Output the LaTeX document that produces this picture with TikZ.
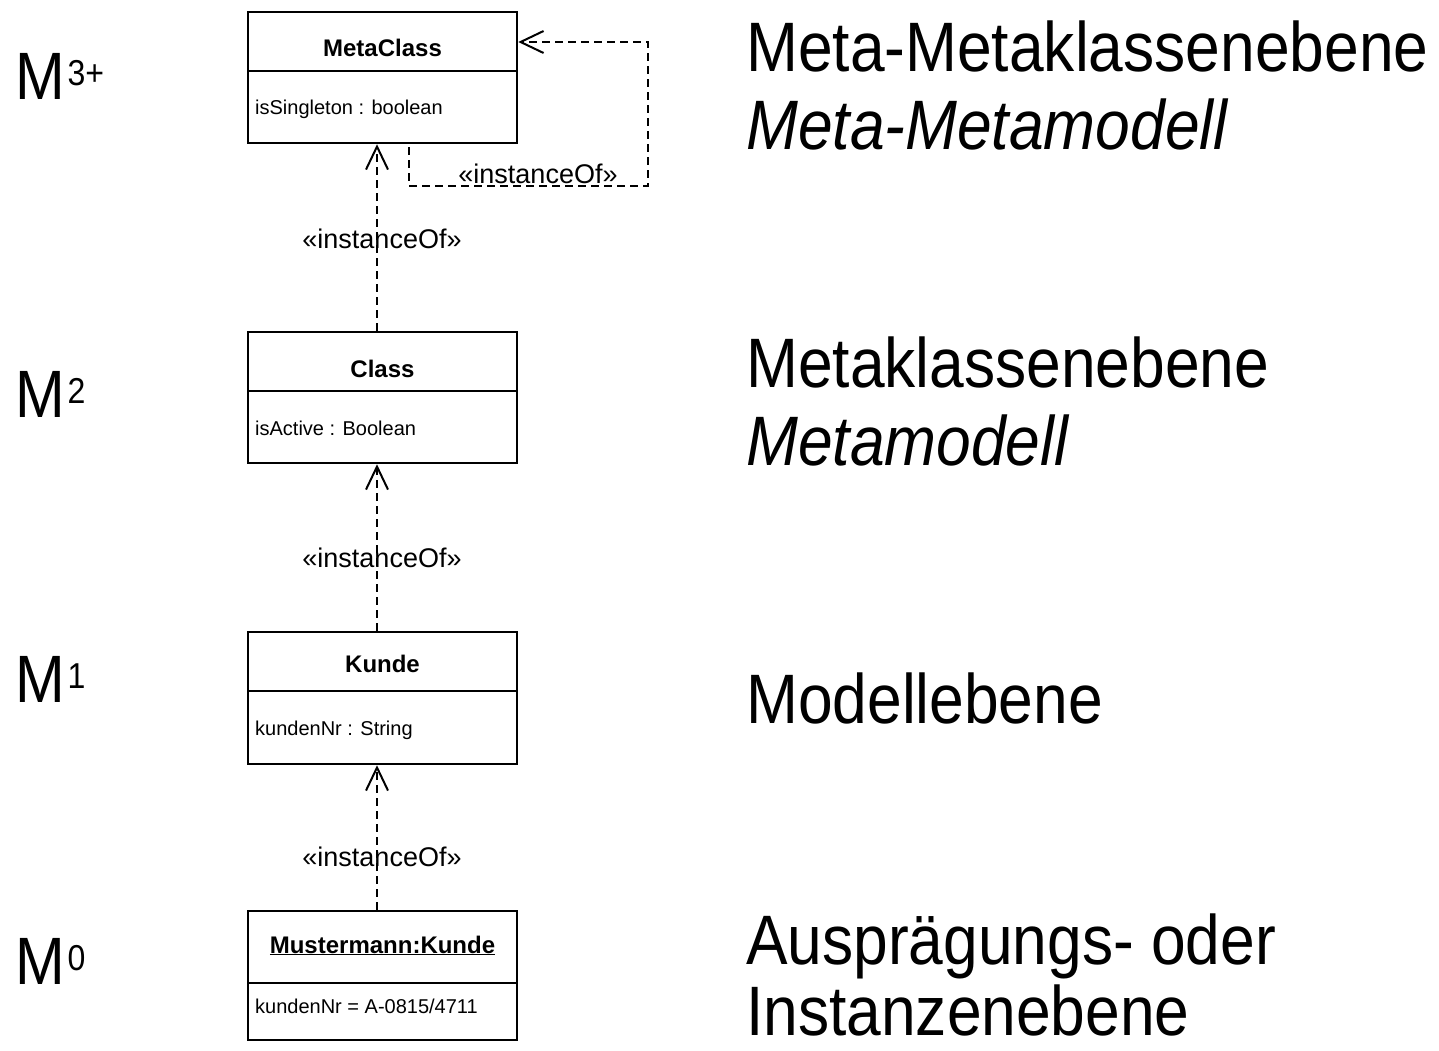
\documentclass[tikz,border=0pt]{standalone}
\usepackage{fontspec}
\setmainfont{Liberation Sans}
\usetikzlibrary{arrows.meta}
\newcommand{\cond}[1]{\scalebox{0.89}[1]{#1}}
\newcommand{\supr}[1]{\hspace{3pt}\raisebox{14pt}{\fontsize{36}{36}\selectfont #1}}
\begin{document}
\begin{tikzpicture}[x=1pt,y=-1pt,
  umlbox/.style={draw, line width=2.5pt, minimum width=269pt, inner sep=0pt},
  divider/.style={line width=2.5pt},
  inst/.style={line width=2pt, dash pattern=on 8pt off 5pt,
    -{Straight Barb[length=23pt,width=22pt,line width=2pt]}},
  ttl/.style={font=\fontsize{24}{28}\selectfont\bfseries, anchor=base, inner sep=0pt},
  attr/.style={font=\fontsize{20}{24}\selectfont, anchor=base west, inner sep=0pt},
  stereo/.style={font=\fontsize{27}{30}\selectfont, anchor=base, inner sep=0pt},
  big/.style={font=\fontsize{70}{78}\selectfont, anchor=base west, inner sep=0pt},
  lvl/.style={font=\fontsize{67}{70}\selectfont, anchor=base west, inner sep=0pt}]
\useasboundingbox (0,0) rectangle (1439,1051);

% boxes
\node[umlbox, minimum height=131pt] (mc) at (382.5,77.5) {};
\draw[divider] (248,71) -- (517,71);
\node[ttl] (mct) at (382.5,57) {MetaClass};
\node[attr] (mca) at (255,115) {isSingleton : boolean};

\node[umlbox, minimum height=131pt] (cls) at (382.5,397.5) {};
\draw[divider] (248,391) -- (517,391);
\node[ttl] (clst) at (382.5,377) {Class};
\node[attr] (clsa) at (255,435) {isActive : Boolean};

\node[umlbox, minimum height=132pt] (ku) at (382.5,698) {};
\draw[divider] (248,691) -- (517,691);
\node[ttl] (kut) at (382.5,672) {Kunde};
\node[attr] (kua) at (255,735) {kundenNr : String};

\node[umlbox, minimum height=129pt] (mu) at (382.5,975.5) {};
\draw[divider] (248,983) -- (517,983);
\node[ttl] (mut) at (382.5,953) {\underline{Mustermann:Kunde}};
\node[attr] (mua) at (255,1013) {kundenNr = A-0815/4711};

% connectors
\draw[inst] ([xshift=-5.5pt]cls.north) -- ([xshift=-5.5pt]mc.south);
\draw[inst] ([xshift=-5.5pt]ku.north) -- ([xshift=-5.5pt]cls.south);
\draw[inst] ([xshift=-5.5pt]mu.north) -- ([xshift=-5.5pt]ku.south);
\coordinate (lp) at (648,186);
\draw[inst] ([xshift=26.5pt,yshift=-3pt]mc.south) |- (lp) |- ([yshift=35.5pt]mc.east);

% stereotypes
\node[stereo] (s1) at (382,248) {«instanceOf»};
\node[stereo] (s2) at (382,567) {«instanceOf»};
\node[stereo] (s3) at (382,866) {«instanceOf»};
\node[stereo] (s4) at (538,184) {«instanceOf»};

% level labels
\node[lvl] (m3) at (15,100) {\cond{M\supr{3+}}};
\node[lvl] (m2) at (15,417) {\cond{M\supr{2}}};
\node[lvl] (m1) at (15,702) {\cond{M\supr{1}}};
\node[lvl] (m0) at (15,984) {\cond{M\supr{0}}};

% descriptions
\node[big] (d1a) at (746,72) {\cond{Meta-Metaklassenebene}};
\node[big] (d1b) at (746,150) {\cond{\itshape Meta-Metamodell}};
\node[big] (d2a) at (746,387) {\cond{Metaklassenebene}};
\node[big] (d2b) at (746,465) {\cond{\itshape Metamodell}};
\node[big] (d3) at (746,723) {\cond{Modellebene}};
\node[big] (d4a) at (746,964) {\cond{Ausprägungs- oder}};
\node[big] (d4b) at (746,1035) {\cond{Instanzenebene}};
\end{tikzpicture}
\end{document}
